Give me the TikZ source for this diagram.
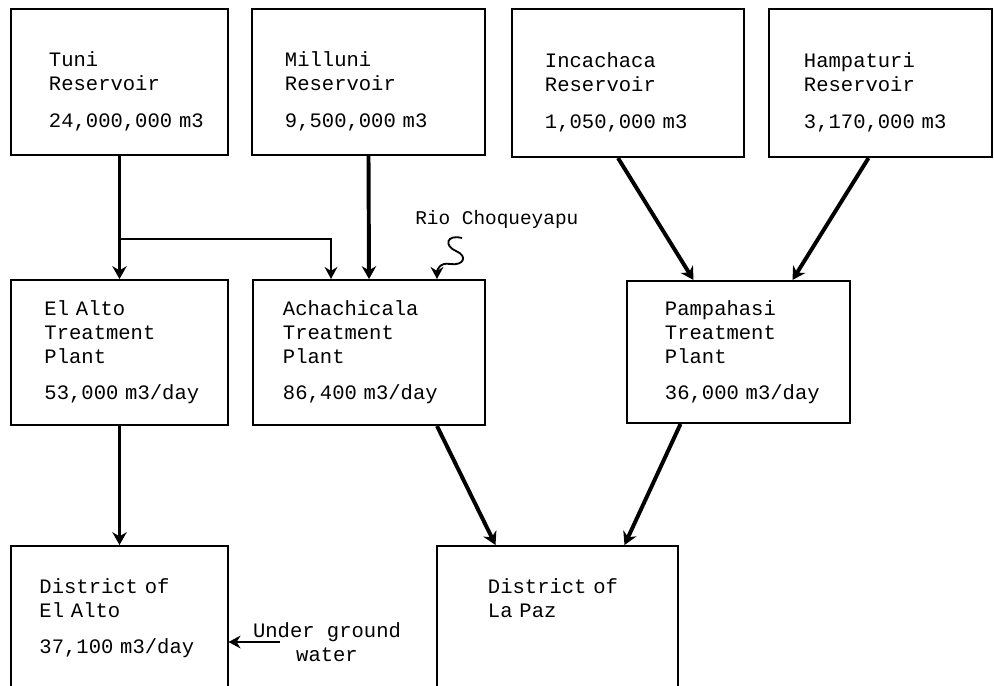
\documentclass[tikz,border=0pt]{standalone}
\usepackage{fontspec}
\setmainfont[WordSpace={1,0,0}]{Liberation Mono}
\usetikzlibrary{arrows.meta, positioning, calc}

\begin{document}
\begin{tikzpicture}[x=0.025cm, y=-0.025cm,
  font=\fontsize{14.6pt}{17.1pt}\selectfont,
  box/.style={draw, line width=1.4pt, align=left, inner xsep=0pt, inner ysep=0pt},
  resv/.style={box, text height=0.85cm},
  district/.style={box, anchor=north, inner ysep=0.825cm, text depth=6cm},
  arr/.style={-{Stealth[length=0.32cm, width=0.36cm]}, line width=2.8pt},
  thinarr/.style={-{Stealth[length=0.3cm, width=0.32cm]}, line width=1.3pt},
  lbl/.style={align=center, inner sep=0pt}
]
\clip (0,0) rectangle (994,685);

\node[resv, minimum width=5.425cm, minimum height=3.65cm, text width=3.525cm] (tuni) at (119.5,82)
  {Tuni\\Reservoir\\[0.33cm]24,000,000~m3};
\node[resv, minimum width=5.825cm, minimum height=3.65cm, text width=4.175cm] (milluni) at (368.5,82)
  {Milluni\\Reservoir\\[0.33cm]9,500,000~m3};
\node[resv, minimum width=5.8cm, minimum height=3.7cm, text width=4.15cm] (incachaca) at (628,83)
  {Incachaca\\Reservoir\\[0.33cm]1,050,000~m3};
\node[resv, minimum width=5.575cm, minimum height=3.7cm, text width=3.825cm] (hampaturi) at (880.5,83)
  {Hampaturi\\Reservoir\\[0.33cm]3,170,000~m3};

\node[box, minimum width=5.4cm, minimum height=3.625cm, text width=3.75cm] (elaltoTP) at (119.5,352.5)
  {El~Alto\\Treatment\\Plant\\[0.3cm]53,000~m3/day};
\node[box, minimum width=5.8cm, minimum height=3.625cm, text width=4.3cm] (achachicala) at (369,352.5)
  {Achachicala\\Treatment\\Plant\\[0.3cm]86,400~m3/day};
\node[box, minimum width=5.575cm, minimum height=3.55cm, text width=3.675cm] (pampahasi) at (738.5,352)
  {Pampahasi\\Treatment\\Plant\\[0.3cm]36,000~m3/day};

\node[district, minimum width=5.4cm, text width=4.0cm] (dElAlto) at (119.5,545)
  {District~of\\El~Alto\\[0.3cm]37,100~m3/day};
\node[district, minimum width=6.025cm, text width=3.475cm] (dLaPaz) at (557.5,545)
  {District~of\\La~Paz};

\node[anchor=base west, inner sep=0pt, font=\fontsize{13.8pt}{16pt}\selectfont] (rio) at (415,224)
  {Rio Choqueyapu};
\node[lbl] (ugw) at (327,642) {Under~ground\\water};

\draw[arr] (tuni.south) -- (elaltoTP.north);
\path (tuni.south) ++(0,83) coordinate (split);
\draw[thinarr] (split) -| ($(achachicala.north)+(-38,0)$);
\draw[arr] (milluni.south) -- (achachicala.north);
\draw[thinarr] ($(rio.base west)+(47,14)$) .. controls (446,234) and (444,246) .. (456,251)
  .. controls (468,256) and (464,266) .. (450,264)
  .. controls (440,262) and (437,270) .. ($(achachicala.north)+(68,0)$);
\draw[arr] ($(incachaca.south)+(-10,0)$) -- ($(pampahasi.north)+(-45,0)$);
\draw[arr] ($(hampaturi.south)+(-12,0)$) -- ($(pampahasi.north)+(54,0)$);

\draw[arr] (elaltoTP.south) -- (dElAlto.north);
\draw[arr] ($(achachicala.south)+(68,0)$) -- ($(dLaPaz.north)+(-62,0)$);
\draw[arr] ($(pampahasi.south)+(-58,0)$) -- ($(dLaPaz.north)+(67,0)$);
\draw[thinarr] ($(ugw.west)+(27,0)$) -- (dElAlto.east |- ugw.west);
\end{tikzpicture}
\end{document}
